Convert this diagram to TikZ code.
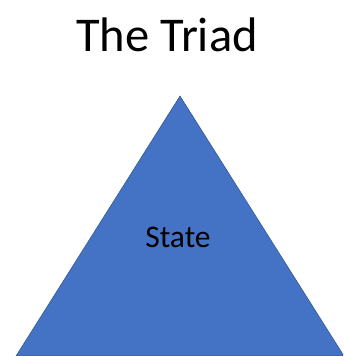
\documentclass[tikz,border=0pt]{standalone}
\usepackage{fontspec}
\setmainfont{Carlito}
\definecolor{triblue}{HTML}{4472C4}
\definecolor{triedge}{HTML}{2F528F}
\begin{document}
\begin{tikzpicture}[x=1pt,y=1pt]
      \useasboundingbox (0,0) rectangle (343,356);
      \clip (0,0) rectangle (343,356);

      \draw[fill=triblue,draw=triedge,line width=0.5pt]  (180,260) -- (16,0) -- (344,0) -- cycle;

      \node[anchor=base] (title) at (167,304) {\fontsize{48.5}{58}\selectfont The Triad};
      \node[anchor=base] (state) at (178,108) {\fontsize{31.5}{38}\selectfont State};

    \end{tikzpicture}
\end{document}
